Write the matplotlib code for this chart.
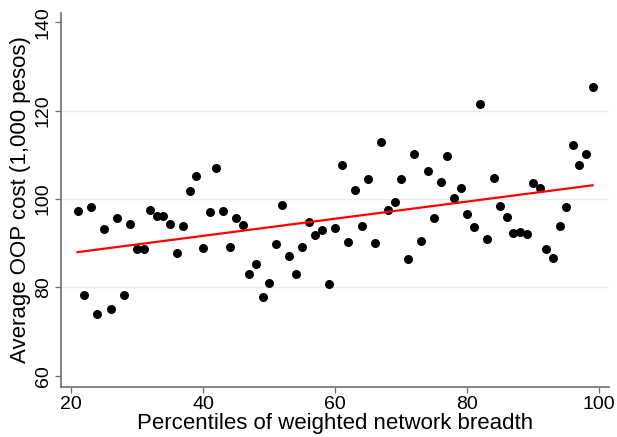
import numpy as np
import matplotlib.pyplot as plt

plt.rcParams['font.family'] = ['Liberation Sans', 'DejaVu Sans']

# percentile bins of weighted network breadth and mean OOP cost per bin
pctile = list(range(21, 100))
oop_cost = [
    97.2, 78.2, 98.2, 74.0, 93.3, 75.2, 95.6, 78.2, 94.3, 88.7,
    88.7, 97.6, 96.2, 96.1, 94.3, 87.8, 93.8, 101.8, 105.2, 89.0,
    97.0, 107.0, 97.2, 89.2, 95.6, 94.1, 83.0, 85.3, 77.9, 81.0,
    89.9, 98.7, 87.2, 83.0, 89.1, 94.9, 91.8, 92.9, 80.8, 93.4,
    107.6, 90.2, 102.1, 93.9, 104.6, 90.0, 113.0, 97.6, 99.4, 104.6,
    86.5, 110.1, 90.4, 106.3, 95.6, 103.8, 109.8, 100.3, 102.4, 96.6,
    93.6, 121.6, 91.0, 104.7, 98.5, 96.0, 92.2, 92.5, 92.0, 103.7,
    102.4, 88.7, 86.6, 93.9, 98.3, 112.2, 107.6, 110.2, 125.4,
]
x_ticks = [20, 40, 60, 80, 100]
y_ticks = [60, 80, 100, 120, 140]

x = np.array(pctile, dtype=float)
y = np.array(oop_cost)
slope, intercept = np.polyfit(x, y, 1)

fig = plt.figure(figsize=(6.17, 4.37), dpi=100)
ax = fig.add_axes([0.0989, 0.115, 0.888, 0.856])

for gy in y_ticks[1:-1]:
    ax.axhline(gy, color='#e6edf1', lw=1.0, zorder=0)

ax.scatter(x, y, s=42, color='black', zorder=3, linewidths=0)
ax.plot([x.min(), x.max()], [intercept + slope * x.min(), intercept + slope * x.max()],
        color='red', lw=1.6, zorder=4)

ax.set_xlim(18.48, 101.47)
ax.set_ylim(57.5, 142.2)
ax.set_xticks(x_ticks)
ax.set_yticks(y_ticks)
ax.set_yticklabels([str(t) for t in y_ticks], rotation=90, va='center')

for side in ['top', 'right']:
    ax.spines[side].set_visible(False)
for side in ['left', 'bottom']:
    ax.spines[side].set_color('#6e6e6e')
    ax.spines[side].set_linewidth(1.2)
ax.tick_params(direction='out', length=4.5, width=0.9, color='#6e6e6e',
               labelsize=14, labelcolor='black', pad=2)

ax.set_xlabel('Percentiles of weighted network breadth', fontsize=16, labelpad=0)
ax.set_ylabel('Average OOP cost (1,000 pesos)', fontsize=16, labelpad=3)

fig.savefig('out.png', dpi=100)
